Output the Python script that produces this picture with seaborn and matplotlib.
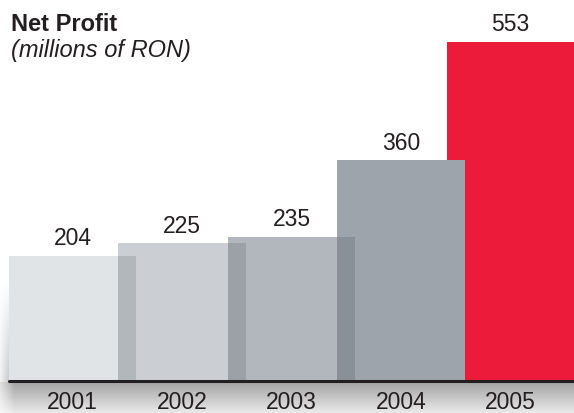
import numpy as np
import pandas as pd
import matplotlib.pyplot as plt
import seaborn as sns

years = ['2001', '2002', '2003', '2004', '2005']
profit = [204, 225, 235, 360, 553]

bar_colors = ['#e1e4e7', '#cbcfd3', '#b1b7bd', '#9ea4ab', '#ed1b3a']
overlap_colors = ['#b2b7bc', '#9ca1a8', '#8a9097']

sns.set_theme(style='white')
plt.rcParams['font.family'] = ['Liberation Sans', 'DejaVu Sans']

W, H = 574, 414
fig = plt.figure(figsize=(W / 100, H / 100), dpi=100, facecolor='white')

# soft shadow under the base line and left of the first bar
yy, xx = np.mgrid[0:H, 0:W].astype(float)
alpha = np.zeros((H, W))
below = yy >= 383
alpha[below] = (0.36 * np.clip(1 - (yy - 383) / 40, 0, 1) * np.clip((xx + 8) / 22, 0, 1))[below]
left = (xx < 9) & (yy < 383)
alpha[left] = (0.22 * np.clip((yy - 280) / 100, 0, 1) * np.clip((xx + 3) / 12, 0, 1))[left]
shadow = np.zeros((H, W, 4))
shadow[..., 3] = alpha
bg = fig.add_axes([0, 0, 1, 1], zorder=0)
bg.imshow(shadow, aspect='auto', interpolation='bilinear')
bg.axis('off')

ax = fig.add_axes([9 / W, 32 / H, 1 - 9 / W, 339 / H], zorder=1)
ax.patch.set_alpha(0)

df = pd.DataFrame({'year': years, 'profit': profit})
w = 1.164
sns.barplot(data=df, x='year', y='profit', hue='year', palette=bar_colors,
            width=w, saturation=1, linewidth=0, legend=False, ax=ax)

# red bar sits behind the 2004 bar
ax.patches[4].set_zorder(0.9)

# darker strips where neighbouring grey bars overlap
for i in range(3):
    ax.bar(i + 0.5, min(profit[i], profit[i + 1]), width=w - 1,
           color=overlap_colors[i], linewidth=0, zorder=1.5)

ax.axhline(0, color='#231f20', lw=2.2, zorder=3, clip_on=False)

for i, v in enumerate(profit):
    ax.annotate(str(v), (i, v), xytext=(0, 8.3), textcoords='offset points',
                ha='center', va='baseline', fontsize=16.5, color='#231f20',
                annotation_clip=False)
    ax.annotate(years[i], (i, 0), xytext=(0, -19.4), textcoords='offset points',
                ha='center', va='baseline', fontsize=16.5, color='#231f20',
                annotation_clip=False)

ax.set_xlim(-w / 2, 4 + w / 2)
ax.set_ylim(0, 553)
ax.set_xticks([])
ax.set_yticks([])
ax.set_xlabel('')
ax.set_ylabel('')
sns.despine(ax=ax, left=True, bottom=True)

fig.text(11 / W, 1 - 31 / H, 'Net Profit', fontsize=17, fontweight='bold',
         va='baseline', color='#231f20')
fig.text(11 / W, 1 - 57 / H, '(millions of RON)', fontsize=17, fontstyle='italic',
         va='baseline', color='#231f20')

fig.savefig('out.png', dpi=100, facecolor='white')
